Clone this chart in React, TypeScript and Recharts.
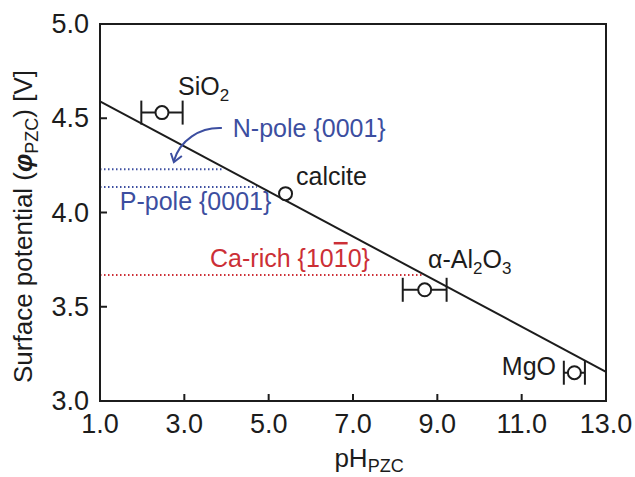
import {
  ComposedChart,
  ErrorBar,
  Line,
  ReferenceArea,
  ReferenceDot,
  ReferenceLine,
  Scatter,
  XAxis,
  YAxis,
} from "recharts";

const X_TICKS = [1, 3, 5, 7, 9, 11, 13];
const Y_TICKS = [3.0, 3.5, 4.0, 4.5, 5.0];

// oxides / calcite: pH_PZC vs surface potential
const MATERIALS = ["SiO2", "calcite", "α-Al2O3", "MgO"];
const PH_PZC = [2.47, 5.4, 8.7, 12.25];
const PH_ERR = [0.49, 0, 0.52, 0.25];
const PHI_PZC = [4.53, 4.1, 3.59, 3.15];

// linear fit
const FIT_PH = [1, 13];
const FIT_PHI = [4.59, 3.155];

// calcite facets (dotted levels), and where each dotted line stops
const FACETS = ["N-pole {0001}", "P-pole {0001}", "Ca-rich {1010}"];
const FACET_PHI = [4.23, 4.135, 3.668];
const FACET_END = [3.89, 4.72, 8.66];

const FONT = "'Liberation Sans', Arial, Helvetica, sans-serif";
const INK = "#1c1c1c";
const BLUE = "#3c4ea0";
const RED = "#cc2f36";

const points = MATERIALS.map((name, i) => ({
  name,
  ph: PH_PZC[i],
  phi: PHI_PZC[i],
  err: PH_ERR[i],
}));
const withErr = points.filter((p) => p.err > 0);
const noErr = points.filter((p) => p.err === 0);
const fitData = FIT_PH.map((ph, i) => ({ ph, phi: FIT_PHI[i] }));
const facetColors = [BLUE, BLUE, RED];

function XTick({ x, y, payload }: any) {
  return (
    <g>
      <line x1={x} y1={y} x2={x} y2={y - 7} stroke={INK} strokeWidth={2} />
      <text x={x} y={y + 32} textAnchor="middle" fontSize={27} fontFamily={FONT} fill={INK}>
        {Number(payload.value).toFixed(1)}
      </text>
    </g>
  );
}

function YTick({ x, y, payload }: any) {
  return (
    <g>
      <line x1={x} y1={y} x2={x + 7} y2={y} stroke={INK} strokeWidth={2} />
      <text x={x - 11} y={y + 9} textAnchor="end" fontSize={27} fontFamily={FONT} fill={INK}>
        {Number(payload.value).toFixed(1)}
      </text>
    </g>
  );
}

function YTitle({ viewBox }: any) {
  const cx = viewBox.x + 32;
  const cy = viewBox.y + viewBox.height / 2 + 14;
  return (
    <text
      x={cx}
      y={cy}
      transform={`rotate(-90 ${cx} ${cy})`}
      textAnchor="middle"
      fontSize={26}
      fontFamily={FONT}
      fill={INK}
    >
      Surface potential (
      <tspan fontStyle="italic" fontWeight="bold">φ</tspan>
      <tspan fontSize={18} dy={6}>PZC</tspan>
      <tspan dy={-6}>) [V]</tspan>
    </text>
  );
}

function XTitle({ viewBox }: any) {
  const cx = viewBox.x + viewBox.width / 2 + 16;
  const cy = viewBox.y + 66;
  return (
    <text x={cx} y={cy} textAnchor="middle" fontSize={26} fontFamily={FONT} fill={INK}>
      pH
      <tspan fontSize={18} dy={5}>PZC</tspan>
    </text>
  );
}

function Marker({ cx, cy }: any) {
  return <circle cx={cx} cy={cy} r={6.5} fill="#fff" stroke={INK} strokeWidth={2} />;
}

const note = (content: any, color = INK) => (p: any) => (
  <text x={p.cx} y={p.cy} fontSize={25} fontFamily={FONT} fill={color}>
    {content}
  </text>
);

const sub = (s: string) => (
  <tspan fontSize={17} dy={6}>
    {s}
  </tspan>
);

export default function App() {
  return (
    <div style={{ position: "absolute", left: 0, top: 0, width: 635, height: 477, background: "#fff" }}>
      <ComposedChart width={635} height={477} margin={{ top: 24, right: 29, bottom: 0, left: 0 }}>
        <XAxis
          dataKey="ph"
          type="number"
          domain={[1, 13]}
          ticks={X_TICKS}
          interval={0}
          allowDataOverflow
          height={76}
          tickSize={0}
          tickMargin={0}
          tickLine={false}
          axisLine={{ stroke: INK, strokeWidth: 2 }}
          tick={<XTick />}
          label={<XTitle />}
        />
        <YAxis
          dataKey="phi"
          type="number"
          domain={[3, 5]}
          ticks={Y_TICKS}
          interval={0}
          allowDataOverflow
          width={100}
          tickSize={0}
          tickMargin={0}
          tickLine={false}
          axisLine={{ stroke: INK, strokeWidth: 2 }}
          tick={<YTick />}
          label={<YTitle />}
        />
        <ReferenceArea x1={1} x2={13} y1={3} y2={5} fill="none" stroke={INK} strokeWidth={2} fillOpacity={0} />

        {FACETS.map((f, i) => (
          <ReferenceLine
            key={f}
            segment={[
              { x: 1, y: FACET_PHI[i] },
              { x: FACET_END[i], y: FACET_PHI[i] },
            ]}
            stroke={facetColors[i]}
            strokeWidth={2}
            strokeDasharray="1.5 2.5"
          />
        ))}

        <Line
          data={fitData}
          dataKey="phi"
          type="linear"
          stroke={INK}
          strokeWidth={2}
          dot={false}
          isAnimationActive={false}
        />

        <Scatter data={withErr} dataKey="phi" shape={<Marker />} isAnimationActive={false}>
          <ErrorBar dataKey="err" direction="x" width={12} stroke={INK} strokeWidth={2} />
        </Scatter>
        <Scatter data={noErr} dataKey="phi" shape={<Marker />} isAnimationActive={false} />

        <ReferenceDot x={2.85} y={4.623} r={0} shape={note(<>SiO{sub("2")}</>)} />
        <ReferenceDot x={4.15} y={4.4} r={0} shape={note(FACETS[0], BLUE)} />
        <ReferenceDot
          x={3.89}
          y={4.448}
          r={0}
          shape={(p: any) => (
            <g transform={`translate(${p.cx},${p.cy})`} fill="none" stroke={BLUE} strokeWidth={2}>
              <path d="M0,0 C-22,-1 -42,12 -48,33" />
              <polyline points="-51,25 -48,34 -40,28" strokeLinejoin="miter" />
            </g>
          )}
        />
        <ReferenceDot x={5.65} y={4.146} r={0} shape={note("calcite")} />
        <ReferenceDot x={1.47} y={4.013} r={0} shape={note(FACETS[1], BLUE)} />
        <ReferenceDot
          x={3.61}
          y={3.711}
          r={0}
          shape={note(
            <>
              {"Ca-rich {10"}
              <tspan textDecoration="overline" style={{ textDecoration: "overline" }}>1</tspan>
              {"0}"}
            </>,
            RED,
          )}
        />
        <ReferenceDot
          x={8.78}
          y={3.706}
          r={0}
          shape={note(
            <>
              α-Al{sub("2")}
              <tspan dy={-6}>O</tspan>
              {sub("3")}
            </>,
          )}
        />
        <ReferenceDot x={10.53} y={3.138} r={0} shape={note("MgO")} />
      </ComposedChart>
    </div>
  );
}
